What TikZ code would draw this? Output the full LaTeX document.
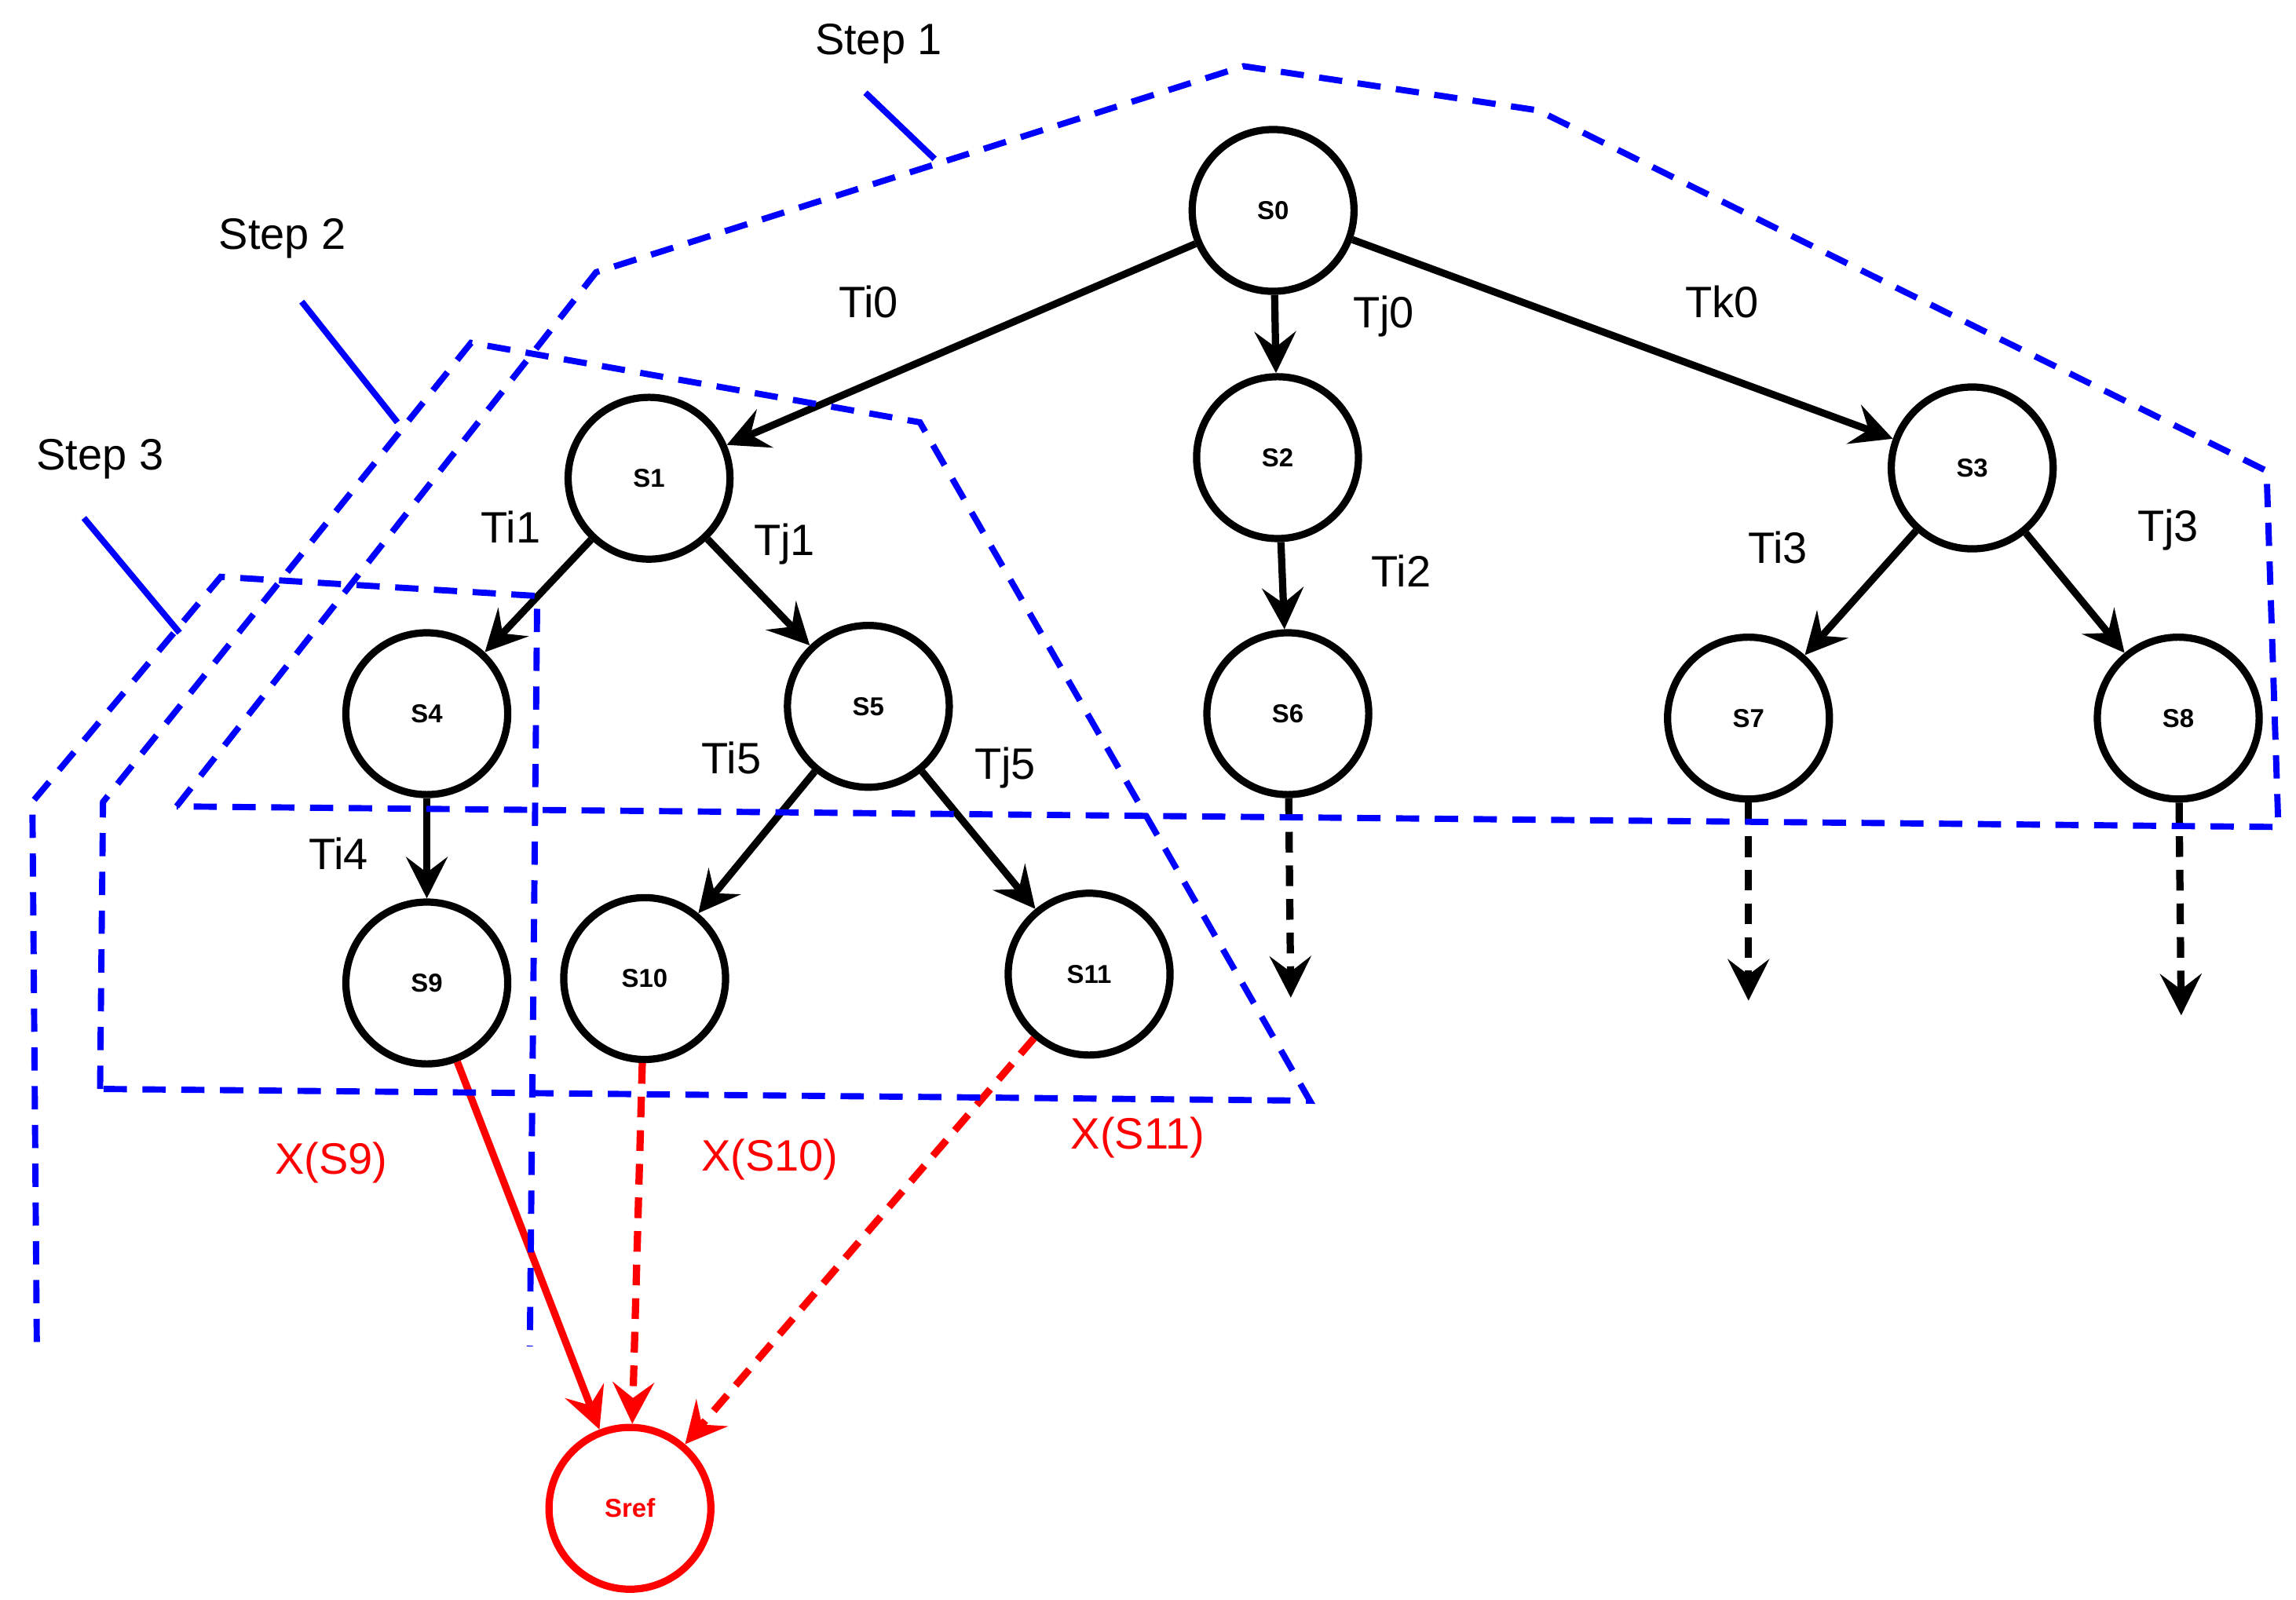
\documentclass[tikz,border=0pt]{standalone}
\usepackage{fontspec}
\setmainfont{Liberation Sans}
\usetikzlibrary{arrows.meta}
\begin{document}
\begin{tikzpicture}[x=0.02cm,y=-0.02cm]
\tikzstyle{state}=[draw, circle, line width=2.8pt, minimum size=2.2cm, inner sep=0pt, font=\fontsize{10}{12}\selectfont\bfseries]
\tikzstyle{trans}=[line width=2.8pt, -{Stealth[length=16pt,width=16pt,inset=6pt]}]
\tikzstyle{lbl}=[font=\fontsize{17}{20}\selectfont]
\tikzstyle{stepzone}=[blue, line width=2.4pt, dash pattern=on 9pt off 6pt]
\useasboundingbox (0,0) rectangle (1560,1087);

% states
\node[state] (s0) at (865,143) {S0};
\node[state] (s1) at (441,325) {S1};
\node[state] (s2) at (868,311) {S2};
\node[state] (s3) at (1340,318) {S3};
\node[state] (s4) at (290,485) {S4};
\node[state] (s5) at (590,480) {S5};
\node[state] (s6) at (875,485) {S6};
\node[state] (s7) at (1188,488) {S7};
\node[state] (s8) at (1480,488) {S8};
\node[state] (s9) at (290,668) {S9};
\node[state] (s10) at (438,665) {S10};
\node[state] (s11) at (740,662) {S11};
\node[state,red] (sref) at (428,1025) {Sref};

\coordinate (e6) at (877,678);
\coordinate (e7) at (1188,680);
\coordinate (e8) at (1482,690);

% transitions
\draw[trans] (s0) -- (s1);
\draw[trans] (s0) -- (s2);
\draw[trans] (s0) -- (s3);
\draw[trans] (s1) -- (s4);
\draw[trans] (s1) -- (s5);
\draw[trans] (s2) -- (s6);
\draw[trans] (s3) -- (s7);
\draw[trans] (s3) -- (s8);
\draw[trans] (s4) -- (s9);
\draw[trans] (s5) -- (s10);
\draw[trans] (s5) -- (s11);
\draw[trans, dash pattern=on 8pt off 5pt] (s6) -- (e6);
\draw[trans, dash pattern=on 8pt off 5pt] (s7) -- (e7);
\draw[trans, dash pattern=on 8pt off 5pt] (s8) -- (e8);
\draw[trans, red] (s9) -- (sref);
\draw[trans, red, dash pattern=on 8pt off 5pt] (s10) -- (sref);
\draw[trans, red, dash pattern=on 8pt off 5pt] (s11) -- (sref);

% labels
\node[lbl] (ti0) at (590,205) {Ti0};
\node[lbl] (tj0) at (940,215) {Tj0};
\node[lbl] (tk0) at (1170,205) {Tk0};
\node[lbl] (ti1) at (347,358) {Ti1};
\node[lbl] (tj1) at (533,370) {Tj1};
\node[lbl] (ti2) at (952,388) {Ti2};
\node[lbl] (ti3) at (1208,372) {Ti3};
\node[lbl] (tj3) at (1473,360) {Tj3};
\node[lbl] (ti5) at (497,515) {Ti5};
\node[lbl] (tj5) at (683,522) {Tj5};
\node[lbl] (ti4) at (230,580) {Ti4};
\node[lbl,red] (x9) at (225,790) {X(S9)};
\node[lbl,red] (x10) at (523,788) {X(S10)};
\node[lbl,red] (x11) at (773,773) {X(S11)};

% steps
\node[lbl] (step1) at (597,30) {Step 1};
\node[lbl] (step2) at (192,162) {Step 2};
\node[lbl] (step3) at (68,312) {Step 3};
\draw[blue, line width=2.4pt] (588,63) -- (635,108);
\draw[blue, line width=2.4pt] (205,205) -- (270,287);
\draw[blue, line width=2.4pt] (57,352) -- (122,430);
\draw[stepzone] (120,548) -- (405,185) -- (845,45) -- (1045,75) -- (1540,320) -- (1548,562) -- cycle;
\draw[stepzone] (68,740) -- (70,545) -- (320,233) -- (625,287) -- (890,748) -- cycle;
\draw[stepzone] (25,912) -- (22,545) -- (150,392) -- (365,405) -- (360,915);
\end{tikzpicture}
\end{document}
